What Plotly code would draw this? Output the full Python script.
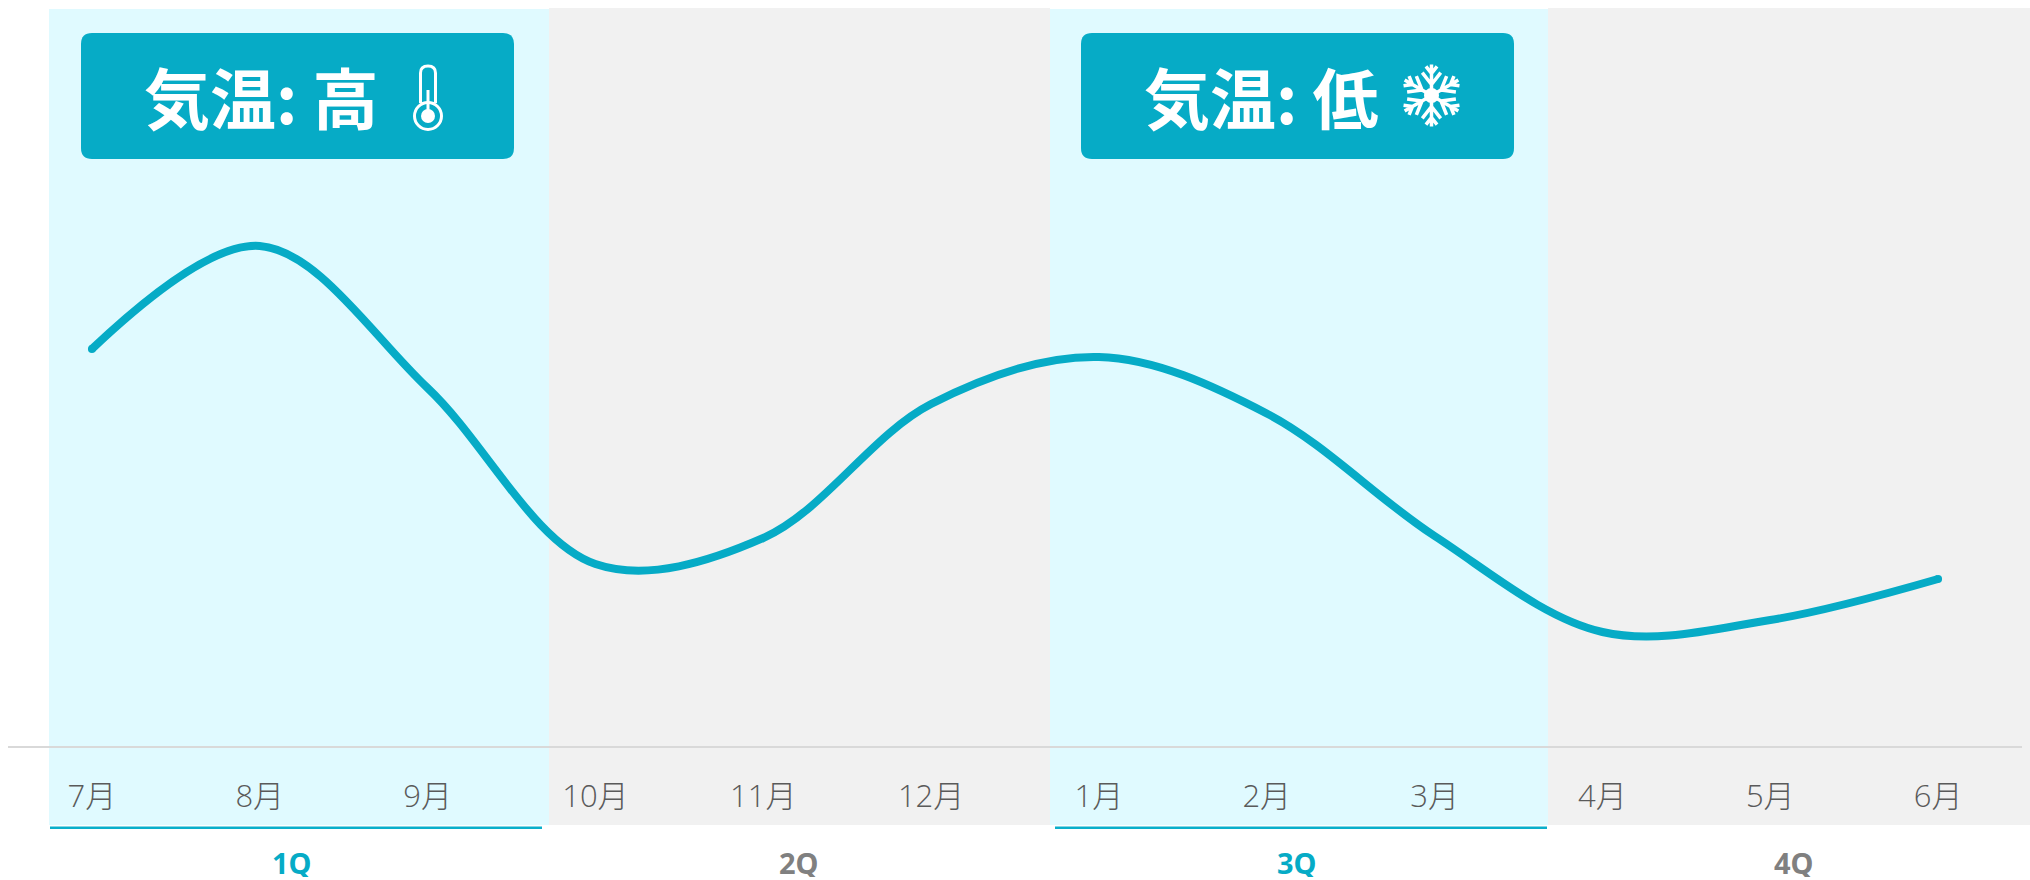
import math
import plotly.graph_objects as go

months = ["7月", "8月", "9月", "10月", "11月", "12月", "1月", "2月", "3月", "4月", "5月", "6月"]
temperature = [79.4, 100.0, 71.6, 36.4, 41.6, 68.4, 77.8, 66.5, 42.0, 22.8, 25.2, 33.4]
quarters = ["1Q", "2Q", "3Q", "4Q"]
headline = ["気温: 高", "気温: 低"]

W, H = 2030, 880
L, R, BASE = 8, 2022, 746
TEAL = "#06ABC6"
CYAN = "#E0FAFF"
GRAY = "#F1F1F1"


def px(x):
    return (x - L) / (R - L)


def py(y):
    return (BASE - y) / BASE


def rect(x0, y0, x1, y1, color):
    return dict(type="rect", xref="paper", yref="paper", x0=px(x0), x1=px(x1), y0=py(y1), y1=py(y0),
                fillcolor=color, line_width=0, layer="below")


def rounded(x0, y0, x1, y1, r, color):
    d = (f"M {px(x0+r):.5f} {py(y0):.5f} L {px(x1-r):.5f} {py(y0):.5f} "
         f"Q {px(x1):.5f} {py(y0):.5f} {px(x1):.5f} {py(y0+r):.5f} "
         f"L {px(x1):.5f} {py(y1-r):.5f} Q {px(x1):.5f} {py(y1):.5f} {px(x1-r):.5f} {py(y1):.5f} "
         f"L {px(x0+r):.5f} {py(y1):.5f} Q {px(x0):.5f} {py(y1):.5f} {px(x0):.5f} {py(y1-r):.5f} "
         f"L {px(x0):.5f} {py(y0+r):.5f} Q {px(x0):.5f} {py(y0):.5f} {px(x0+r):.5f} {py(y0):.5f} Z")
    return dict(type="path", xref="paper", yref="paper", path=d, fillcolor=color, line_width=0, layer="below")


def circle(cx, cy, r, **kw):
    return dict(type="circle", xref="paper", yref="paper", x0=px(cx - r), x1=px(cx + r),
                y0=py(cy + r), y1=py(cy - r), layer="above", **kw)


shapes = [
    rect(49, 9, 549, 825, CYAN),
    rect(549, 8, 1050, 825, GRAY),
    rect(1050, 9, 1548, 825, CYAN),
    rect(1548, 8, 2030, 825, GRAY),
    rect(50, 826.5, 542, 829, "#0AAFCB"),
    rect(1055, 826.5, 1547, 829, "#0AAFCB"),
    rounded(81, 33, 514, 159, 11, TEAL),
    rounded(1081, 33, 1514, 159, 11, TEAL),
]

# thermometer
tx, top, bulb = 428, 66, 116
d = f"M {px(tx-7.5):.5f} {py(bulb-13):.5f} L {px(tx-7.5):.5f} {py(top+7):.5f} " \
    f"Q {px(tx-7.5):.5f} {py(top):.5f} {px(tx):.5f} {py(top):.5f} " \
    f"Q {px(tx+7.5):.5f} {py(top):.5f} {px(tx+7.5):.5f} {py(top+7):.5f} L {px(tx+7.5):.5f} {py(bulb-13):.5f}"
shapes.append(dict(type="path", xref="paper", yref="paper", path=d, line=dict(color="white", width=3), layer="above"))
shapes.append(circle(tx, bulb, 13.5, line=dict(color="white", width=3), fillcolor=TEAL))
shapes.append(circle(tx, bulb, 7, line_width=0, fillcolor="white"))
shapes.append(rect(tx - 1.5, 90, tx + 1.5, bulb, "white") | {"layer": "above"})

# snowflake
sx, sy, rad = 1431.5, 95.5, 31
shapes.append(circle(sx, sy, 7.5, line_width=0, fillcolor="white"))
for k in range(6):
    a = math.radians(90 + 60 * k)
    ux, uy = math.cos(a), -math.sin(a)
    pts = [f"M {px(sx):.5f} {py(sy):.5f} L {px(sx+rad*ux):.5f} {py(sy+rad*uy):.5f}"]
    for dist, ln in [(22, 9), (11, 15)]:
        bx, by = sx + dist * ux, sy + dist * uy
        for sgn in (-1, 1):
            b = a + sgn * math.radians(38)
            pts.append(f"M {px(bx):.5f} {py(by):.5f} L {px(bx+ln*math.cos(b)):.5f} {py(by-ln*math.sin(b)):.5f}")
    shapes.append(dict(type="path", xref="paper", yref="paper", path=" ".join(pts),
                       line=dict(color="white", width=3.5), layer="above"))

cjk = "Noto Sans CJK JP"
annotations = [
    dict(text=headline[0], x=px(261), y=py(95), font=dict(family=cjk, size=66, color="white", weight="bold")),
    dict(text=headline[1], x=px(1261), y=py(95), font=dict(family=cjk, size=66, color="white", weight="bold")),
]
q_x = [292, 799, 1297, 1794]
q_col = [TEAL, "#808080", TEAL, "#808080"]
for q, x, c in zip(quarters, q_x, q_col):
    annotations.append(dict(text=q, x=px(x), y=py(862), height=30,
                            font=dict(family="Noto Sans", size=29, color=c, weight="bold")))
for a in annotations:
    a.update(xref="paper", yref="paper", showarrow=False, xanchor="center", yanchor="middle")

fig = go.Figure(go.Scatter(
    x=months, y=temperature, mode="lines",
    line=dict(color=TEAL, width=8, shape="spline", smoothing=1.0),
    hoverinfo="skip",
))
fig.add_trace(go.Scatter(
    x=[months[0], months[-1]], y=[temperature[0], temperature[-1]], mode="markers",
    marker=dict(color=TEAL, size=8), hoverinfo="skip",
))
fig.update_layout(
    width=W, height=H, showlegend=False,
    margin=dict(l=L, r=W - R, t=0, b=H - BASE, pad=0),
    paper_bgcolor="white", plot_bgcolor="rgba(0,0,0,0)",
    shapes=shapes, annotations=annotations,
    xaxis=dict(type="category", categoryorder="array", categoryarray=months, range=[-0.5, 11.5],
               showgrid=False, zeroline=False, showline=True, linecolor="#D9D9D9", linewidth=2,
               ticks="outside", ticklen=22, tickcolor="rgba(0,0,0,0)",
               tickfont=dict(family="Open Sans, " + cjk, size=31, color="#5A5A5A", weight=300)),
    yaxis=dict(range=[0, 149.2], visible=False),
)
fig.write_html("out.html", config=dict(displayModeBar=False),
               post_script="document.body.style.margin='0';document.body.style.overflow='hidden';")
